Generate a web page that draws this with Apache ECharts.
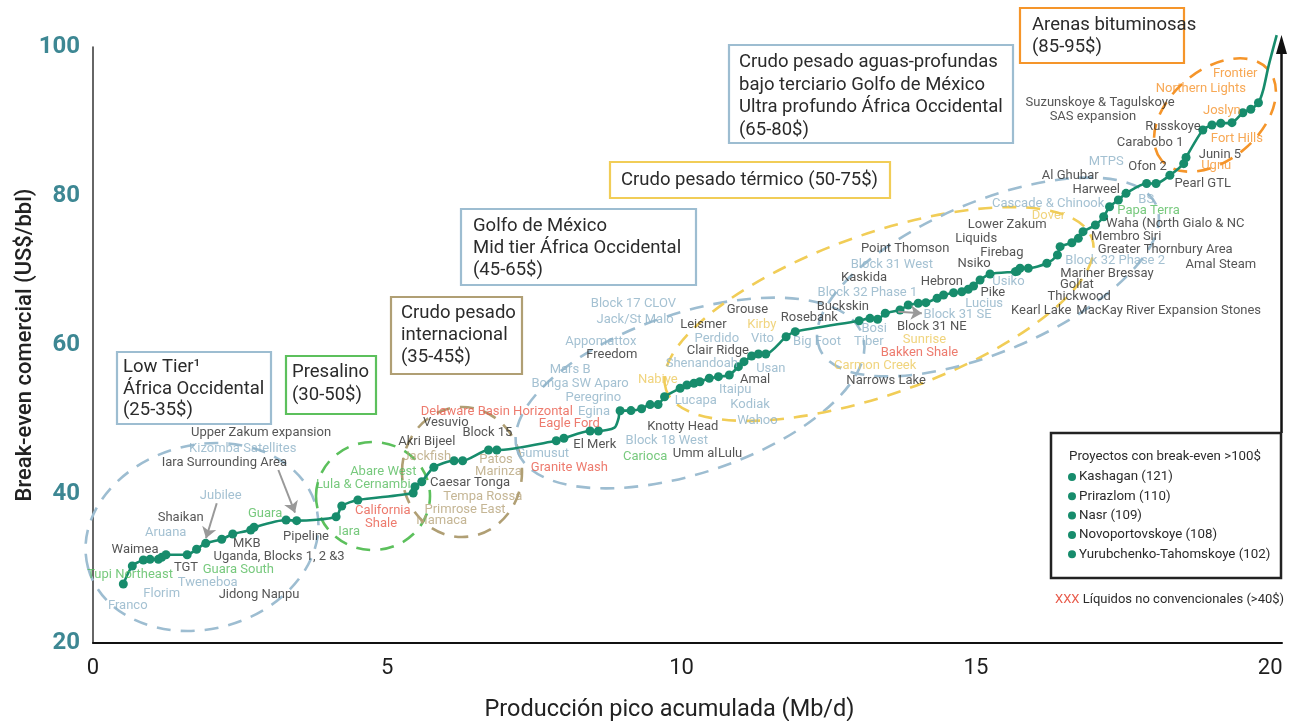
<!DOCTYPE html>
<html><head><meta charset="utf-8">
<script src="https://cdn.jsdelivr.net/npm/echarts@6/dist/echarts.min.js"></script>
<style>html,body{margin:0;padding:0;background:#fff}#c{width:1295px;height:721px}</style>
</head><body><div id="c"></div>
<script>
const FONT = 'Roboto, "Noto Sans", sans-serif';

// axes
const xTickStep = 5;
const yTickStep = 20;
const xTitle = 'Producción pico acumulada (Mb/d)';
const yTitle = 'Break-even comercial (US$/bbl)';

// cost curve (cumulative peak production Mb/d, break-even US$/bbl, 1 = project dot)
const curveX = [0.515,0.668,0.855,0.969,1.11,1.167,1.24,1.60,1.76,1.915,2.187,2.374,2.68,2.736,3.28,3.46,4.13,4.226,4.50,5.44,5.47,5.585,5.79,6.134,6.28,6.72,6.86,7.87,8.00,8.445,8.586,8.86,8.93,8.955,9.14,9.32,9.465,9.60,9.71,9.975,10.09,10.21,10.31,10.47,10.625,10.81,10.965,11.06,11.19,11.305,11.43,11.775,11.93,13.016,13.2,13.33,13.46,13.71,13.85,14.02,14.15,14.34,14.45,14.62,14.76,14.87,14.96,15.07,15.24,15.67,15.70,15.75,15.89,16.205,16.385,16.43,16.63,16.74,16.82,17.03,17.17,17.27,17.42,17.55,17.90,18.06,18.295,18.53,18.57,18.855,19.01,19.16,19.35,19.535,19.67,19.80,19.88,19.97,20.11];
const curveY = [27.92,30.34,31.14,31.23,31.23,31.5,31.85,31.85,32.58,33.38,33.92,34.63,35.17,35.53,36.51,36.42,36.95,38.39,39.19,40.13,40.98,41.65,43.58,44.47,44.47,45.9,45.9,47.15,47.48,48.46,48.46,48.9,50.2,51.18,51.2,51.45,52.0,52.0,53.06,54.19,54.63,54.86,55.07,55.53,55.75,55.97,57.09,57.76,58.52,58.79,58.79,61.11,61.79,63.26,63.58,63.45,64.26,64.7,65.37,65.6,65.68,66.27,66.71,67.02,67.15,67.48,67.92,68.72,69.53,69.84,69.9,70.3,70.3,70.97,72.08,73.2,73.73,74.32,75.21,76.1,77.22,78.56,79.46,80.36,81.68,81.68,82.78,84.34,85.17,88.86,89.53,89.76,89.84,91.18,91.64,92.52,94.2,97.4,101.6];
const curveDot = [1,1,1,1,1,1,1,1,1,1,1,1,1,1,1,1,1,1,1,1,1,1,1,1,1,1,1,1,1,1,1,0,0,1,1,1,1,1,1,1,1,1,1,1,1,1,1,1,1,1,1,1,1,1,1,1,1,1,1,1,1,1,1,1,1,1,1,1,1,1,1,1,1,1,1,1,1,1,1,1,1,1,1,1,1,1,1,1,1,1,1,1,1,1,1,1,0,0,0];

// project labels: [name, x, y, group]
const annotations = [
 ['Upper Zakum expansion',2.855,48.23,'k'],['Kizomba Satellites',2.544,46.13,'b'],['Iara Surrounding Area',2.231,44.2,'k'],
 ['Jubilee',2.17,39.77,'b'],['Shaikan',1.49,36.87,'k'],['Aruana',1.235,34.81,'b'],['Guara',2.923,37.32,'g'],
 ['Waimea',0.714,32.58,'k'],['MKB',2.612,33.29,'k'],['Pipeline',3.619,34.27,'k'],['Uganda, Blocks 1, 2 &3',3.161,31.58,'k'],
 ['Tupi Northeast',0.629,29.22,'g'],['TGT',1.58,30.11,'k'],['Guara South',2.469,29.8,'g'],['Tweneboa',1.949,28.09,'b'],
 ['Florim',1.167,26.67,'b'],['Jidong Nanpu',2.821,26.44,'k'],['Franco',0.59,25.01,'b'],
 ['Abare West',4.933,42.99,'g'],['Lula & Cernambi',4.593,41.3,'g'],['California',4.923,37.76,'r'],['Shale',4.894,36.07,'r'],['Iara',4.35,34.94,'g'],
 ['Delaware Basin Horizontal',6.86,51.05,'r'],['Vesuvio',5.993,49.57,'k'],['Akri Bijeel',5.67,47.02,'k'],['Block 15',6.7,48.23,'k'],
 ['Jackfish',5.67,45.01,'t'],['Patos',6.848,44.56,'t'],['Marinza',6.887,42.99,'t'],['Caesar Tonga',6.406,41.52,'k'],
 ['Tempa Rossa',6.622,39.64,'t'],['Primrose East',6.321,37.95,'t'],['Mamaca',5.925,36.42,'t'],
 ['Egina',8.513,51.05,'b'],['Eagle Ford',8.093,49.4,'r'],['Gumusut',7.641,45.46,'b'],['El Merk',8.525,46.67,'k'],['Granite Wash',8.093,43.58,'r'],
 ['Block 18 West',9.748,47.15,'b'],['Carioca',9.38,45.06,'g'],['Knotty Head',10.02,49.03,'k'],['Peregrino',8.501,52.98,'b'],['Bonga SW Aparo',8.275,54.83,'b'],
 ['Block 17 CLOV',9.181,65.5,'b'],['Jack/St Malo',9.21,63.36,'b'],['Leismer',10.37,62.68,'k'],['Grouse',11.118,64.7,'k'],['Kirby',11.363,62.68,'y'],
 ['Rosebank',12.17,63.72,'k'],['Buckskin',12.74,65.14,'k'],['Appomattox',8.627,60.44,'b'],['Perdido',10.598,60.8,'b'],['Vito',11.373,60.8,'b'],
 ['Big Foot',12.30,60.44,'b'],['Freedom',8.814,58.75,'k'],['Clair Ridge',10.615,59.19,'k'],['Mars B',8.105,56.74,'b'],['Shenandoah',10.343,57.45,'b'],
 ['Usan',11.516,56.78,'b'],['Nabiye',9.596,55.4,'y'],['Amal',11.249,55.4,'k'],['Itaipu',10.909,53.96,'b'],['Lucapa',10.241,52.52,'b'],
 ['Kodiak',11.164,52.04,'b'],['Wahoo',11.288,49.84,'b'],['Umm al',10.229,45.46,'k'],['Lulu',10.824,45.46,'k'],
 ['Liquids',15.004,74.32,'k'],['Point Thomson',13.798,72.98,'k'],['Firebag',15.441,72.39,'k'],['Block 31 West',13.572,70.74,'b'],['Nsiko',14.97,70.87,'k'],
 ['Kaskida',13.101,69.03,'k'],['Hebron',14.421,68.5,'k'],['Usiko',15.553,68.5,'b'],['Block 32 Phase 1',13.157,67.02,'b'],['Pike',15.288,67.07,'k'],
 ['Lucius',15.14,65.6,'b'],['Block 31 SE',14.687,64.03,'b'],['Block 31 NE',14.251,62.46,'k'],['Bosi',13.271,62.19,'b'],['Tiber',13.181,60.44,'b'],
 ['Sunrise',14.126,60.77,'y'],['Bakken Shale',14.041,58.97,'r'],['Carmon Creek',13.288,57.22,'y'],['Narrows Lake',13.475,55.21,'k'],
 ['MTPS',17.213,84.6,'b'],['Ofon 2',17.915,83.89,'k'],['Junin 5',19.145,85.57,'k'],['Ugnu',19.082,84.03,'o'],['Al Ghubar',16.602,82.78,'k'],
 ['Pearl GTL',18.853,81.68,'k'],['Harweel',17.043,80.85,'k'],['Cascade & Chinook',16.228,78.93,'b'],['BS',17.893,79.56,'b'],['Papa Terra',17.932,78.03,'g'],
 ['Dover',16.233,77.32,'y'],['Lower Zakum',15.531,76.11,'k'],['Waha (North Gialo & NC',18.386,76.24,'k'],['Membro Siri',17.553,74.54,'k'],
 ['Greater Thornbury Area',18.216,72.85,'k'],['Block 32 Phase 2',17.366,71.32,'b'],['Amal Steam',19.162,70.74,'k'],['Mariner Bressay',17.225,69.62,'k'],
 ['Goliat',16.715,68.15,'k'],['Thickwood',16.754,66.48,'k'],['Kearl Lake',16.109,64.6,'k'],['MacKay River Expansion Stones',18.275,64.6,'k'],
 ['Frontier',19.405,96.47,'o'],['Northern Lights',18.822,94.46,'o'],['Suzunskoye & Tagulskoye',17.111,92.52,'k'],['SAS expansion',16.987,90.64,'k'],
 ['Joslyn',19.179,91.45,'o'],['Russkoye',18.347,89.3,'k'],['Fort Hills',19.434,87.74,'o'],['Carabobo 1',17.961,87.15,'k']
];

// pointer arrows: [x0, y0, x1, y1]
const pointers = [
 [3.149,43.22,3.432,37.49],
 [2.102,38.75,1.92,34.05],
 [13.679,64.47,14.081,64.26]
];

// projects above 100$
const highNames = ['Kashagan','Prirazlom','Nasr','Novoportovskoye','Yurubchenko-Tahomskoye'];
const highValues = [121,110,109,108,102];

const groupColor = {k:'#2b2b2b', b:'#8db1c7', g:'#55bb5c', t:'#b7a47a', y:'#ecc95e', o:'#f5922a', r:'#e85a4a'};
const lineColor = '#178c6c';

const curveData = curveX.map((x,i)=>({value:[x,curveY[i]], symbolSize: curveDot[i]?9:0}));
const labelData = annotations.map(a=>({name:a[0], value:[a[1],a[2]], label:{color:groupColor[a[3]]}}));
const pointerData = pointers.map(p=>({coords:[[p[0],p[1]],[p[2],p[3]]]}));

function ell(cx,cy,rx,ry,rotDeg,color){
  return {type:'ellipse', x:cx, y:cy, rotation:rotDeg*Math.PI/180, z:1, silent:true,
    shape:{cx:0,cy:0,rx:rx,ry:ry},
    style:{fill:'none', stroke:color, lineWidth:2.6, lineDash:[14,10]}};
}
function box(x,y,w,h,color,text,tx,ty,lh,fs){
  return [
    {type:'rect', shape:{x:x,y:y,width:w,height:h}, z:20, style:{fill:'#fff', stroke:color, lineWidth:2.2}},
    {type:'text', x:tx, y:ty, z:21, style:{text:text, font:(fs||18.5)+'px '+FONT, fill:'#2b2b2b', lineHeight:lh, verticalAlign:'top'}}
  ];
}
const cBlue='#9dbdd1', cGreen='#5cc05c', cTan='#b09f74', cYel='#f1cd57', cOra='#f5952a';

const graphics = [
  ell(202,537,118,92,15,cBlue),
  ell(373,496,57,54,0,cGreen),
  ell(462,472,60,65,0,cTan),
  ell(690,393,182,80,18.5,cBlue),
  ell(879,314,226,80,19.6,cYel),
  ell(988,277,183,75,23,cBlue),
  ell(1215,115,70,45,40,cOra),
  ...box(117,352,154,72,cBlue,'Low Tier\u00b9\nÁfrica Occidental\n(25-35$)',123,357,21.5),
  ...box(286,356,90,58,cGreen,'Presalino\n(30-50$)',292,361,23),
  ...box(391,297,131,77,cTan,'Crudo pesado\ninternacional\n(35-45$)',401,302,22),
  ...box(461,209,235,76,cBlue,'Golfo de México\nMid tier África Occidental\n(45-65$)',473,215,22),
  ...box(610,162,280,36,cYel,'Crudo pesado térmico (50-75$)',621,169,22),
  ...box(729,45,284,98,cBlue,'Crudo pesado aguas-profundas\nbajo terciario Golfo de México\nUltra profundo África Occidental\n(65-80$)',739,51,22.7),
  ...box(1020,8,164,55,cOra,'Arenas bituminosas\n(85-95$)',1032,14,22),
  // legend of >100$ projects
  {type:'rect', shape:{x:1051,y:433,width:230,height:145}, z:20, style:{fill:'#fff', stroke:'#222', lineWidth:2.5}},
  {type:'text', x:1069, y:457, z:21, style:{text:'Proyectos con break-even >100$', font:'13.3px '+FONT, fill:'#2b2b2b', verticalAlign:'middle'}},
  ...highNames.flatMap((n,i)=>[
    {type:'circle', x:1072, y:477+i*19.3, z:21, shape:{cx:0,cy:0,r:4}, style:{fill:lineColor}},
    {type:'text', x:1079, y:477+i*19.3, z:21, style:{text:n+' ('+highValues[i]+')', font:'13.3px '+FONT, fill:'#2b2b2b', verticalAlign:'middle'}}
  ]),
  {type:'text', x:1055, y:600, z:21, style:{text:'{r|XXX} Líquidos no convencionales (>40$)', font:'13px '+FONT, fill:'#2b2b2b', verticalAlign:'middle',
     rich:{r:{fill:'#e85a4a', font:'13px '+FONT}}}},
  // vertical arrow
  {type:'line', z:19, shape:{x1:1281.5,y1:433,x2:1281.5,y2:50}, style:{stroke:'#111', lineWidth:2.5}},
  {type:'polygon', z:19, shape:{points:[[1281.5,35],[1276,54],[1287,54]]}, style:{fill:'#111'}}
];

const chart = echarts.init(document.getElementById('c'), null, {renderer:'canvas'});
chart.setOption({
  animation:false,
  backgroundColor:'#fff',
  textStyle:{fontFamily:FONT},
  grid:{left:93, right:13, top:47, bottom:78, containLabel:false, outerBoundsMode:'none'},
  xAxis:{type:'value', min:0, max:20.2, interval:xTickStep,
    name:xTitle, nameLocation:'middle', nameGap:55,
    nameTextStyle:{fontSize:23.5, color:'#222', fontFamily:FONT, padding:[0,36,0,0]},
    axisLine:{show:true, onZero:false, lineStyle:{color:'#111', width:2}},
    axisTick:{show:false}, splitLine:{show:false},
    axisLabel:{fontSize:22, color:'#1e1e1e', margin:14, fontFamily:FONT,
      formatter:v=> (Math.abs(v % xTickStep) < 1e-9 ? String(v) : '')}},
  yAxis:{type:'value', min:20, max:100, interval:yTickStep,
    name:yTitle, nameLocation:'middle', nameGap:57, nameRotate:90, nameMoveOverlap:false,
    nameTextStyle:{fontSize:22, color:'#222', fontFamily:FONT, fontWeight:500},
    axisLine:{show:true, lineStyle:{color:'#333', width:1.5}},
    axisTick:{show:false}, splitLine:{show:false},
    axisLabel:{fontSize:24, fontWeight:'bold', color:'#3d8793', margin:13, fontFamily:FONT}},
  graphic: graphics,
  series:[
    {type:'line', data:curveData, smooth:0.25, symbol:'circle', showAllSymbol:true, clip:false, z:5,
     lineStyle:{color:lineColor, width:2.6}, itemStyle:{color:lineColor}, silent:true},
    {type:'scatter', data:labelData, symbol:'circle', symbolSize:1, z:6, silent:true,
     itemStyle:{color:'rgba(0,0,0,0)'},
     label:{show:true, position:'inside', formatter:'{b}', fontSize:13, fontFamily:FONT}},
    {type:'lines', coordinateSystem:'cartesian2d', data:pointerData, z:6, silent:true,
     symbol:['none','arrow'], symbolSize:11,
     lineStyle:{color:'#999', width:2, opacity:1}}
  ]
});
</script></body></html>
